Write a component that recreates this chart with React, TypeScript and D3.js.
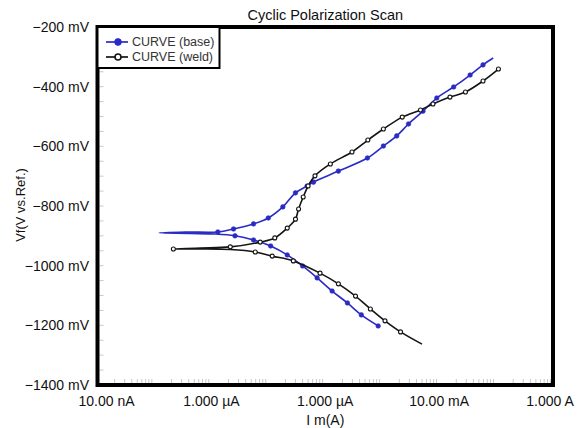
import React, { useEffect, useRef } from 'react';
import * as d3 from 'd3';

// cathodic end -> Ecorr spike -> anodic end
const baseCurrent = [
  8.5e-4, 4.3e-4, 2.45e-4, 1.32e-4, 7.2e-5, 4.0e-5, 2.15e-5, 1.1e-5, 5.5e-6, 2.6e-6, 1.2e-6, 4.3e-7,
  1.2e-7,
  3.5e-7, 1.3e-6, 2.45e-6, 5.5e-6, 1.0e-5, 1.8e-5, 3.0e-5, 4.8e-5, 6.2e-5, 1.7e-4, 5.5e-4, 1.05e-3,
  1.8e-3, 2.9e-3, 5.2e-3, 9.1e-3, 1.8e-2, 3.5e-2, 5.9e-2, 8.9e-2,
];
const basePotential = [
  -1202, -1165, -1125, -1085, -1041, -1001, -964, -934, -914, -900, -894, -892,
  -890,
  -887, -887, -877, -860, -840, -803, -756, -733, -720, -683, -639, -599,
  -565, -525, -482, -438, -401, -361, -327, -304,
];
const baseNoMarker = [10, 11, 12, 13, 32];

const weldCurrent = [
  5.0e-3, 2.1e-3, 1.12e-3, 6.2e-4, 3.4e-4, 1.7e-4, 8.1e-5, 2.75e-5, 1.17e-5, 5.9e-6, 2.15e-6, 6.5e-7,
  2.15e-7,
  6.5e-7, 2.15e-6, 7.2e-6, 1.3e-5, 2.15e-5, 3.0e-5, 3.4e-5, 4.1e-5, 5.0e-5, 6.6e-5, 1.23e-4, 2.95e-4,
  5.6e-4, 1.05e-3, 2.25e-3, 4.7e-3, 7.8e-3, 1.55e-2, 2.9e-2, 5.9e-2, 1.1e-1,
];
const weldPotential = [
  -1263, -1222, -1185, -1145, -1102, -1061, -1025, -984, -968, -954, -946, -944,
  -944,
  -941, -937, -921, -907, -874, -844, -810, -770, -733, -699, -659, -619,
  -579, -542, -502, -478, -458, -435, -418, -381, -341,
];
const weldNoMarker = [0, 10, 11, 13];

const yTicks = [-200, -400, -600, -800, -1000, -1200, -1400];
const xTicks = [1e-8, 1e-6, 1e-4, 1e-2, 1];
const xTickLabels = ['10.00 nA', '1.000 µA', '1.000 µA', '10.00 mA', '1.000 A'];
const seriesNames = ['CURVE (base)', 'CURVE (weld)'];

const W = 583;
const H = 428;
const FONT = '"Liberation Sans", Arial, sans-serif';

const App = () => {
  const ref = useRef<SVGSVGElement>(null);

  useEffect(() => {
    document.body.style.margin = '0';
    const svg = d3.select(ref.current);
    svg.selectAll('*').remove();

    const left = 97.5, right = 553, top = 27, bottom = 385;
    const x = d3.scaleLog().domain([1e-8, 1]).range([left, right]);
    const y = d3.scaleLinear().domain([-1400, -200]).range([bottom, top]);

    svg.append('rect').attr('width', W).attr('height', H).attr('fill', '#fff');

    // minor ticks inside the frame
    const minorY = d3.range(-1350, -200, 50);
    svg
      .append('g')
      .selectAll('line')
      .data(minorY)
      .enter()
      .append('line')
      .attr('x1', left + 2)
      .attr('x2', left + 6)
      .attr('y1', (d) => y(d))
      .attr('y2', (d) => y(d))
      .attr('stroke', '#c8c8c8')
      .attr('stroke-width', 1);

    const minorX: number[] = [];
    for (let e = -8; e < 0; e++) for (let m = 2; m <= 9; m++) minorX.push(m * Math.pow(10, e));
    svg
      .append('g')
      .selectAll('line')
      .data(minorX)
      .enter()
      .append('line')
      .attr('x1', (d) => x(d))
      .attr('x2', (d) => x(d))
      .attr('y1', bottom - 2)
      .attr('y2', bottom - 6)
      .attr('stroke', '#c8c8c8')
      .attr('stroke-width', 1);

    // frame
    svg
      .append('rect')
      .attr('x', left)
      .attr('y', top)
      .attr('width', right - left)
      .attr('height', bottom - top)
      .attr('fill', 'none')
      .attr('stroke', '#000')
      .attr('stroke-width', 4);

    // y labels
    svg
      .append('g')
      .selectAll('text')
      .data(yTicks)
      .enter()
      .append('text')
      .attr('x', 89)
      .attr('y', (d) => y(d))
      .attr('dy', '0.35em')
      .attr('text-anchor', 'end')
      .attr('font-family', FONT)
      .attr('font-size', 14)
      .attr('fill', '#111')
      .text((d) => `\u2212${Math.abs(d)} mV`);

    // x labels
    svg
      .append('g')
      .selectAll('text')
      .data(xTicks)
      .enter()
      .append('text')
      .attr('x', (d, i) => x(d) + (i === 0 ? 9 : i === xTicks.length - 1 ? -3 : 0))
      .attr('y', 406)
      .attr('text-anchor', 'middle')
      .attr('font-family', FONT)
      .attr('font-size', 14)
      .attr('fill', '#111')
      .text((d, i) => xTickLabels[i]);

    svg
      .append('text')
      .attr('x', (left + right) / 2)
      .attr('y', 425)
      .attr('text-anchor', 'middle')
      .attr('font-family', FONT)
      .attr('font-size', 14)
      .attr('fill', '#111')
      .text('I m(A)');

    svg
      .append('text')
      .attr('transform', `translate(25,205) rotate(-90)`)
      .attr('text-anchor', 'middle')
      .attr('font-family', FONT)
      .attr('font-size', 13)
      .attr('fill', '#111')
      .text('Vf(V vs.Ref.)');

    svg
      .append('text')
      .attr('x', (left + right) / 2)
      .attr('y', 20)
      .attr('text-anchor', 'middle')
      .attr('font-family', FONT)
      .attr('font-size', 14.5)
      .attr('fill', '#111')
      .text('Cyclic Polarization Scan');

    const line = d3
      .line<[number, number]>()
      .x((d) => x(d[0]))
      .y((d) => y(d[1]))
      .curve(d3.curveCatmullRom.alpha(0.5));

    const series = [
      { cur: baseCurrent, pot: basePotential, skip: baseNoMarker, color: '#2a2ac4', open: false },
      { cur: weldCurrent, pot: weldPotential, skip: weldNoMarker, color: '#141414', open: true },
    ];

    series.forEach((s) => {
      const pts: [number, number][] = s.cur.map((c, i) => [c, s.pot[i]]);
      svg
        .append('path')
        .datum(pts)
        .attr('d', line)
        .attr('fill', 'none')
        .attr('stroke', s.color)
        .attr('stroke-width', 1.6);
      svg
        .append('g')
        .selectAll('circle')
        .data(pts.filter((p, i) => !s.skip.includes(i)))
        .enter()
        .append('circle')
        .attr('cx', (d) => x(d[0]))
        .attr('cy', (d) => y(d[1]))
        .attr('r', s.open ? 2 : 2.3)
        .attr('fill', s.open ? '#fff' : s.color)
        .attr('stroke', s.color)
        .attr('stroke-width', s.open ? 1.1 : 0.6);
    });

    // legend
    const lg = svg.append('g');
    lg.append('rect')
      .attr('x', left)
      .attr('y', top)
      .attr('width', 122)
      .attr('height', 41)
      .attr('fill', '#fff')
      .attr('stroke', '#000')
      .attr('stroke-width', 2);
    series.forEach((s, i) => {
      const ly = 42 + i * 15;
      lg.append('line')
        .attr('x1', 106)
        .attr('x2', 128)
        .attr('y1', ly)
        .attr('y2', ly)
        .attr('stroke', s.color)
        .attr('stroke-width', 1.7);
      lg.append('circle')
        .attr('cx', 118)
        .attr('cy', ly)
        .attr('r', s.open ? 3 : 3.4)
        .attr('fill', s.open ? '#fff' : s.color)
        .attr('stroke', s.color)
        .attr('stroke-width', s.open ? 1.6 : 0.8);
      lg.append('text')
        .attr('x', 132)
        .attr('y', ly)
        .attr('dy', '0.35em')
        .attr('font-family', FONT)
        .attr('font-size', 12.5)
        .attr('fill', '#333')
        .text(seriesNames[i]);
    });
  }, []);

  return <svg ref={ref} width={W} height={H} style={{ display: 'block' }}></svg>;
};

export default App;
